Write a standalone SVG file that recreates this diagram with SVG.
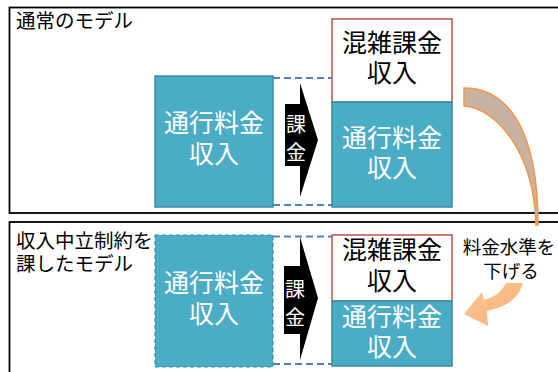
<svg xmlns="http://www.w3.org/2000/svg" width="558" height="372" viewBox="0 0 558 372">
<defs>
<style>
.frame{fill:#fff;stroke:#000;stroke-width:1.8}
.blue{fill:#4BACC6;stroke:#3A8CA3;stroke-width:1.5}
.blued{fill:#4BACC6;stroke:#3A8CA3;stroke-width:1.2;stroke-dasharray:4 3}
.red{fill:#fff;stroke:#C0504D;stroke-width:1.5}
.dash{stroke:#4F81BD;stroke-width:2.2;stroke-dasharray:7 4;fill:none}
.t{font-family:"Noto Sans CJK JP","Noto Sans",sans-serif}
.lbl{font-size:19.5px;fill:#000}
.sm{font-size:18.5px;fill:#000;text-anchor:middle}
.big{font-size:25px;text-anchor:middle}
.w{fill:#fff}
.k{fill:#000}
.arr{fill:#000}
.at{font-size:20px;fill:#fff;text-anchor:middle}
</style>
<linearGradient id="og" x1="0" y1="0" x2="1" y2="1">
<stop offset="0" stop-color="#FBC898"/>
<stop offset="1" stop-color="#F8AE72"/>
</linearGradient>
</defs>
<g id="frame-top"><rect class="frame" x="9.5" y="7.5" width="560" height="205.5"/></g>
<g id="frame-bottom"><rect class="frame" x="9.5" y="222" width="560" height="160"/></g>
<g id="title-top"><text class="t lbl" x="16" y="28">通常のモデル</text></g>
<g id="title-bottom"><text class="t lbl" x="16" y="248">収入中立制約を</text><text class="t lbl" x="16" y="271">課したモデル</text></g>
<g id="connectors">
<line class="dash" x1="273" y1="78" x2="332" y2="78"/>
<line class="dash" x1="273" y1="205" x2="332" y2="205"/>
<line class="dash" x1="273" y1="236.5" x2="332" y2="236.5"/>
<line class="dash" x1="273" y1="364" x2="332" y2="364"/>
</g>
<g id="top-toll"><rect class="blue" x="155" y="76" width="118" height="131"/><text class="t big w" x="214" y="132">通行料金</text><text class="t big w" x="214" y="163">収入</text></g>
<g id="top-cong"><rect class="red" x="332" y="19" width="120" height="83"/><text class="t big k" x="392" y="52">混雑課金</text><text class="t big k" x="392" y="82">収入</text></g>
<g id="top-toll2"><rect class="blue" x="332" y="102" width="120" height="105"/><text class="t big w" x="392" y="147">通行料金</text><text class="t big w" x="392" y="177">収入</text></g>
<g id="top-arrow"><path class="arr" d="M285,104 L300,104 L300,83 L318,140 L300,197 L300,166 L285,166 Z"/><text class="t at" x="296" y="132">課</text><text class="t at" x="296" y="160">金</text></g>
<g id="bot-toll"><rect class="blued" x="155" y="235" width="118" height="132"/><text class="t big w" x="214" y="292">通行料金</text><text class="t big w" x="214" y="323">収入</text></g>
<g id="bot-cong"><rect class="red" x="332" y="235" width="120" height="66"/><text class="t big k" x="392" y="259">混雑課金</text><text class="t big k" x="392" y="290">収入</text></g>
<g id="bot-toll2"><rect class="blue" x="332" y="301" width="120" height="65"/><text class="t big w" x="392" y="326">通行料金</text><text class="t big w" x="392" y="356">収入</text></g>
<g id="bot-arrow"><path class="arr" d="M284,266 L300,266 L300,237 L318,298 L300,360 L300,334 L284,334 Z"/><text class="t at" x="295" y="297">課</text><text class="t at" x="295" y="325">金</text></g>
<g id="curve-arrow"><path d="M464,88 C505,88 538,125 538,225 L536,225 C534,150 495,108 464,106 Z" fill="#C8B3A3" stroke="#F79646" stroke-width="1.5"/></g>
<g id="lower-label"><text class="t sm" x="509" y="254">料金水準を</text><text class="t sm" x="511" y="278">下げる</text></g>
<g id="orange-arrow"><path d="M523,283 C518,300 505,307 487,311 L488,326 L464,314 L482,292 L484,300 C495,297 502,291 506,283 Z" fill="url(#og)"/></g>
</svg>
